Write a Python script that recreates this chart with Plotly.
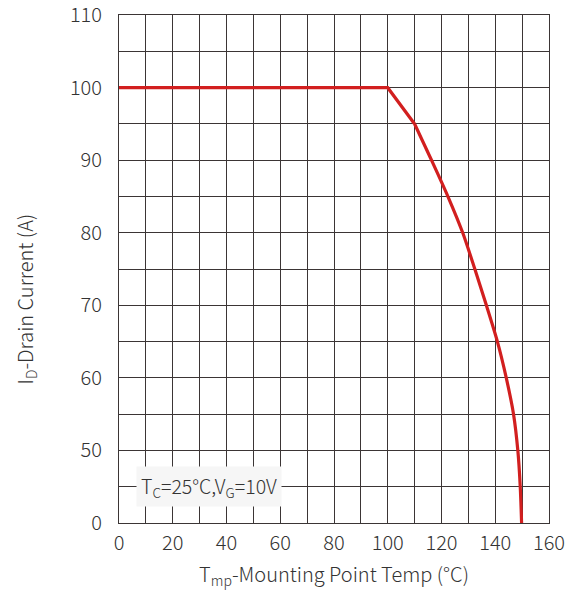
import plotly.graph_objects as go

# Data (real values)
temp_c = [0, 100, 110, 116.3, 122.4, 127.9, 132.4, 136.7, 140.8, 144.1, 146.8, 148.4, 149.3, 149.8]
drain_a = [100, 100, 95, 90, 85, 80, 75, 70, 65, 60, 55, 50, 25, 0]

x_ticks = [0, 20, 40, 60, 80, 100, 120, 140, 160]
y_tick_labels = [0, 50, 60, 70, 80, 90, 100, 110]

# broken y-axis: 0..50 compressed into two grid steps
def ymap(v):
    return v if v >= 50 else 40 + v / 5.0

FONT = "Noto Sans CJK SC"
TXT = "#333333"
GRID = "#3b3535"
RED = "#d21f1f"

fig = go.Figure()
# straight segment up to the 110 °C knee
fig.add_trace(go.Scatter(
    x=temp_c[:3], y=[ymap(v) for v in drain_a[:3]], mode="lines",
    line=dict(color=RED, width=3.2), showlegend=False, hoverinfo="skip"))
# smooth derating curve afterwards
fig.add_trace(go.Scatter(
    x=temp_c[2:], y=[ymap(v) for v in drain_a[2:]], mode="lines",
    line=dict(color=RED, width=3.2, shape="spline", smoothing=0.8),
    showlegend=False, hoverinfo="skip"))

fig.add_annotation(
    x=33.5, y=ymap(25), xref="x", yref="y",
    text="T<sub>C</sub>=25°C,V<sub>G</sub>=10V", showarrow=False,
    font=dict(family=FONT, size=19.5, color=TXT, weight=300),
    bgcolor="#f6f6f6", borderpad=4)

fig.add_annotation(
    x=-0.2186, y=0.44, xref="paper", yref="paper", xanchor="center", yanchor="middle",
    text="I<sub>D</sub>-Drain Current (A)", showarrow=False, textangle=-90,
    font=dict(family=FONT, size=20, color=TXT, weight=300))

fig.update_layout(
    width=582, height=591,
    margin=dict(l=119, r=33, t=15, b=68, autoexpand=False),
    paper_bgcolor="white", plot_bgcolor="white",
    font=dict(family=FONT, size=20, color=TXT, weight=300),
    xaxis=dict(
        range=[0, 160], tickvals=x_ticks, ticktext=[str(v) for v in x_ticks],
        showgrid=True, gridcolor=GRID, gridwidth=1,
        minor=dict(dtick=10, tick0=0, showgrid=True, gridcolor=GRID, gridwidth=1),
        showline=True, linecolor=GRID, linewidth=1, mirror=True,
        zeroline=False, ticks="", ticklabelstandoff=2,
        ticklabeloverflow="allow", automargin=False,
        tickfont=dict(family=FONT, size=20, color=TXT, weight=300),
        title=dict(text="T<sub>mp</sub>-Mounting Point Temp (°C)", standoff=12,
                   font=dict(family=FONT, size=20, color=TXT, weight=300)),
    ),
    yaxis=dict(
        range=[40, 110.02], tickvals=[ymap(v) for v in y_tick_labels],
        ticktext=[str(v) for v in y_tick_labels],
        showgrid=True, gridcolor=GRID, gridwidth=1,
        minor=dict(dtick=5, tick0=40, showgrid=True, gridcolor=GRID, gridwidth=1),
        showline=True, linecolor=GRID, linewidth=1, mirror=True,
        zeroline=False, ticks="", ticklabelstandoff=12,
        ticklabeloverflow="allow", automargin=False,
        tickfont=dict(family=FONT, size=20, color=TXT, weight=300),
    ),
)

fig.write_html("out.html")
